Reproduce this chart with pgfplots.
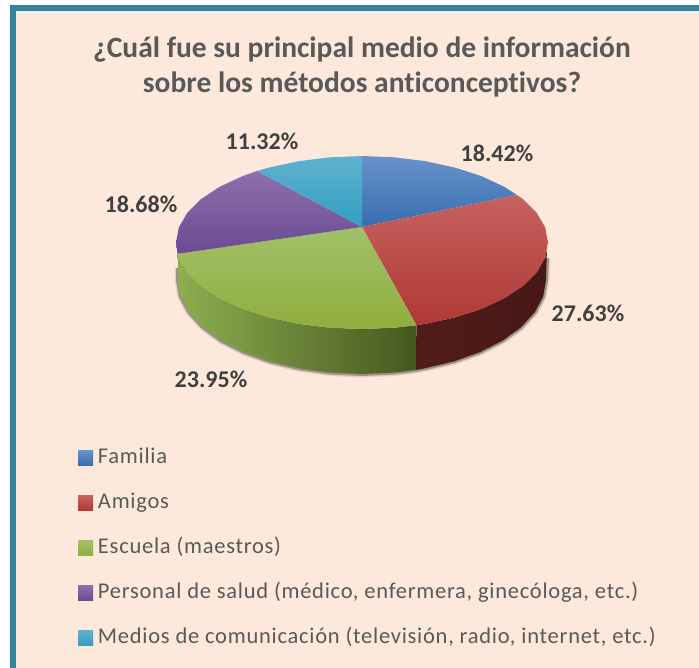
\documentclass[border=0pt]{standalone}
\usepackage{pgfplots}
\pgfplotsset{compat=1.18}
\usepackage{fontspec}
\setmainfont[Ligatures=NoCommon]{Carlito}
\newfontfamily\legfont[Ligatures=NoCommon,LetterSpace=3.3]{Carlito}
\definecolor{bgp}{HTML}{FDE9DB}
\definecolor{teal1}{HTML}{32859E}
\definecolor{ttl}{HTML}{595959}
\definecolor{lab}{HTML}{404040}
\pgfplotstableread{
x y
547 258
546 280
543.2 296.3
534.9 312.1
521.3 327
503 340.4
480.3 352
454 361.4
424.9 368.3
415.8 369.9
393.9 372.6
362 374
330.1 372.6
299.1 368.3
270 361.4
243.7 352
221 340.4
202.7 327
189.1 312.1
180.8 296.3
178 280
178 268
}\bottomrim
\begin{document}
\begin{tikzpicture}
\begin{axis}[
  scale only axis, width=699pt, height=668pt,
  xmin=0, xmax=699, ymin=0, ymax=668, y dir=reverse,
  hide axis, clip=true,
  legend image code/.code={\path[#1] (0pt,-7.5pt) rectangle (15pt,7.5pt);},
  legend cell align=left,
  legend style={at={(78/699,1-448.5/668)}, anchor=north west, draw=none, fill=none,
    inner sep=0pt, outer sep=0pt, row sep=26pt, column sep=5pt,
    font=\legfont\fontsize{22.5}{24}\selectfont\color{ttl},
    nodes={inner sep=0pt, outer sep=0pt, text height=15pt, text depth=4pt}},
]
% frame
\addplot[forget plot, draw=none, fill=white] coordinates {(0,0)(699,0)(699,668)(0,668)} --cycle;
\addplot[forget plot, draw=none, fill=teal1] coordinates {(10,5)(699,5)(699,668)(10,668)} --cycle;
\addplot[forget plot, draw=none, fill=bgp] coordinates {(16,11)(699,11)(699,668)(16,668)} --cycle;
% shadow
\addplot[forget plot, no marks, draw=black, opacity=0.10, line width=7pt] table {\bottomrim};
\addplot[forget plot, no marks, draw=black, opacity=0.30, line width=4pt] table {\bottomrim};
% sides
\addplot[forget plot, draw=none, left color={rgb,255:red,80;green,28;blue,25}, right color={rgb,255:red,72;green,24;blue,22}]
 coordinates {(416.4,325.2)(425.6,323.8)(455,317.4)(481.6,308.8)(504.5,298.1)(523.1,285.8)(536.8,272.1)(545.2,257.5)(547,250)
 (546.5,262)(546,280)(543.2,296.3)(534.9,312.1)(521.3,327)(503,340.4)(480.3,352)(454,361.4)(424.9,368.3)(415.8,369.9)} --cycle;
\addplot[forget plot, draw=none, left color={rgb,255:red,142;green,174;blue,80}, middle color={rgb,255:red,102;green,128;blue,48}, right color={rgb,255:red,68;green,88;blue,30}]
 coordinates {(416.4,325.2)(394.3,327.7)(362,329)(329.7,327.7)(298.4,323.8)(269,317.4)(242.4,308.8)(219.5,298.1)(200.9,285.8)(187.2,272.1)(178.8,257.5)(177.6,253.8)
 (178,268)(178,280)(180.8,296.3)(189.1,312.1)(202.7,327)(221,340.4)(243.7,352)(270,361.4)(299.1,368.3)(330.1,372.6)(362,374)(393.9,372.6)(415.8,369.9)} --cycle;
% top faces
\addplot[draw=none, top color={rgb,255:red,104;green,146;blue,202}, bottom color={rgb,255:red,56;green,110;blue,174}]
 coordinates {(362,227)(362,156)(394.3,157.3)(425.6,161.2)(455,167.6)(481.6,176.2)(504.5,186.9)(517,195)} --cycle;
\addlegendentry{Familia}
\addplot[draw=none, top color={rgb,255:red,198;green,98;blue,96}, bottom color={rgb,255:red,176;green,56;blue,52}]
 coordinates {(362,227)(517,195)(523.1,199.2)(536.8,212.9)(545.2,227.5)(548,242.5)(545.2,257.5)(536.8,272.1)(523.1,285.8)(504.5,298.1)(481.6,308.8)(455,317.4)(425.6,323.8)(416.4,325.2)} --cycle;
\addlegendentry{Amigos}
\addplot[draw=none, top color={rgb,255:red,162;green,192;blue,104}, bottom color={rgb,255:red,144;green,174;blue,62}]
 coordinates {(362,227)(416.4,325.2)(394.3,327.7)(362,329)(329.7,327.7)(298.4,323.8)(269,317.4)(242.4,308.8)(219.5,298.1)(200.9,285.8)(187.2,272.1)(178.8,257.5)(177.6,253.8)} --cycle;
\addlegendentry{Escuela (maestros)}
\addplot[draw=none, top color={rgb,255:red,142;green,112;blue,172}, bottom color={rgb,255:red,106;green,74;blue,146}]
 coordinates {(362,227)(177.6,253.8)(176,242.5)(178.8,227.5)(187.2,212.9)(200.9,199.2)(219.5,186.9)(242.4,176.2)(257,171)} --cycle;
\addlegendentry{Personal de salud (médico, enfermera, ginecóloga, etc.)}
\addplot[draw=none, top color={rgb,255:red,96;green,178;blue,206}, bottom color={rgb,255:red,50;green,158;blue,194}]
 coordinates {(362,227)(257,171)(269,167.6)(298.4,161.2)(329.7,157.3)(362,156)} --cycle;
\addlegendentry{Medios de comunicación (televisión, radio, internet, etc.)}
% text
\node[anchor=base, text=ttl, font=\fontsize{29.5}{31}\selectfont\bfseries] at (axis cs:362,57.5) {¿Cuál fue su principal medio de información};
\node[anchor=base, text=ttl, font=\fontsize{29.5}{31}\selectfont\bfseries] at (axis cs:362,93) {sobre los métodos anticonceptivos?};
\node[text=lab, font=\fontsize{24}{26}\selectfont\bfseries] at (axis cs:497,153) {18.42\%};
\node[text=lab, font=\fontsize{24}{26}\selectfont\bfseries] at (axis cs:588,313) {27.63\%};
\node[text=lab, font=\fontsize{24}{26}\selectfont\bfseries] at (axis cs:211,379) {23.95\%};
\node[text=lab, font=\fontsize{24}{26}\selectfont\bfseries] at (axis cs:141,204) {18.68\%};
\node[text=lab, font=\fontsize{24}{26}\selectfont\bfseries] at (axis cs:262,141) {11.32\%};
\end{axis}
\end{tikzpicture}
\end{document}
